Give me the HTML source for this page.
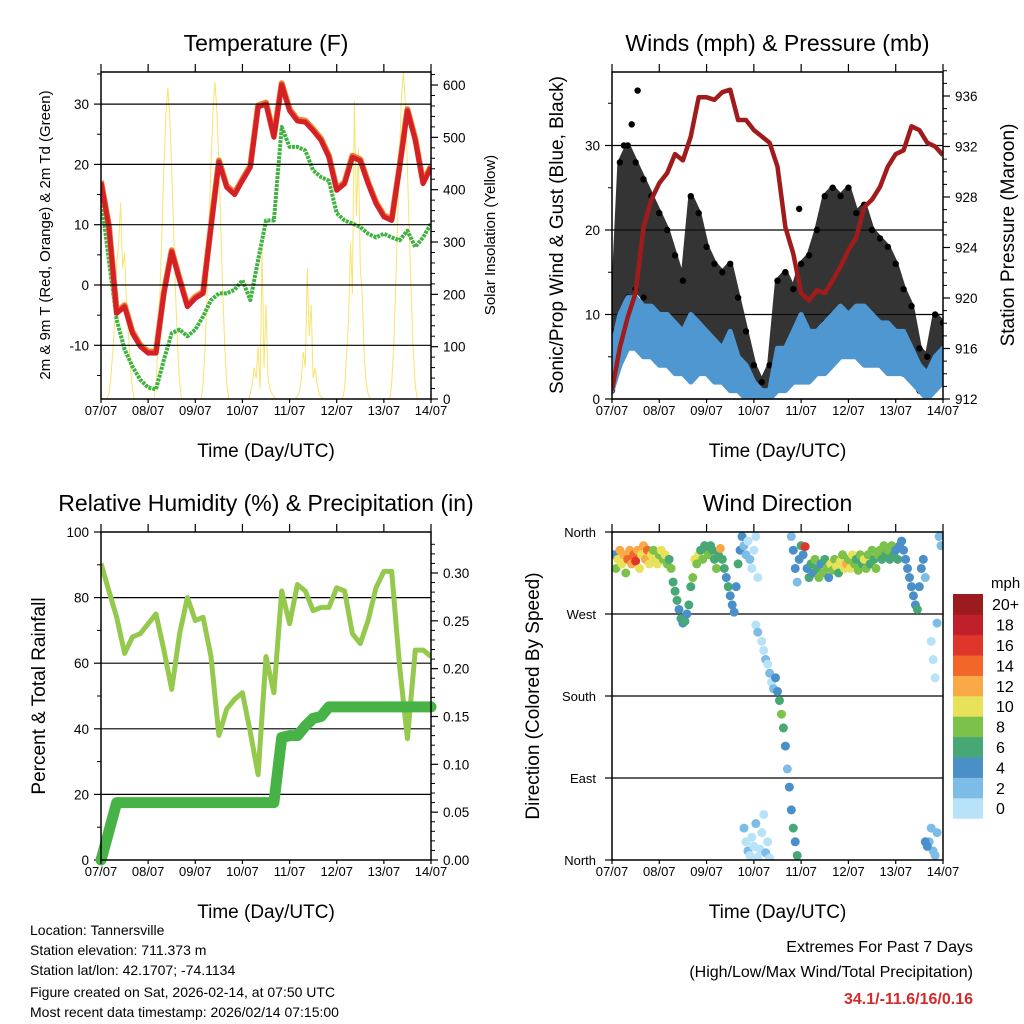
<!DOCTYPE html>
<html><head><meta charset="utf-8"><style>
html,body{margin:0;padding:0;background:#fff;}
svg{display:block;font-family:"Liberation Sans",Arial,sans-serif;}
</style></head><body>
<svg id="s" width="1024" height="1024" viewBox="0 0 1024 1024" xmlns="http://www.w3.org/2000/svg">
<defs>
<clipPath id="c1"><rect x="101" y="72" width="330" height="327"/></clipPath>
<clipPath id="c2"><rect x="612" y="72" width="331" height="327"/></clipPath>
<clipPath id="c3"><rect x="101" y="532" width="330" height="328"/></clipPath>
<clipPath id="c4"><rect x="612" y="532" width="331" height="328"/></clipPath>
</defs>
<g id="g1"></g>
<g id="g2"></g>
<g id="g3"></g>
<g id="g4"></g>
<g font-size="14" fill="#000">
<text x="30" y="935">Location: Tannersville</text>
<text x="30" y="955">Station elevation: 711.373 m</text>
<text x="30" y="975">Station lat/lon: 42.1707; -74.1134</text>
<text x="30" y="997">Figure created on Sat, 2026-02-14, at 07:50 UTC</text>
<text x="30" y="1017">Most recent data timestamp: 2026/02/14 07:15:00</text>
</g>
<g text-anchor="end">
<text x="973" y="952" font-size="16">Extremes For Past 7 Days</text>
<text x="973" y="977" font-size="16">(High/Low/Max Wind/Total Precipitation)</text>
<text x="973" y="1004" font-size="16" font-weight="bold" fill="#d42a2a">34.1/-11.6/16/0.16</text>
</g>
</svg>
<script>
// ---- data ----
const dayLabels=["07/07","08/07","09/07","10/07","11/07","12/07","13/07","14/07"];
const hours4=[0,4,8,12,16,20,24,28,32,36,40,44,48,52,56,60,64,68,72,76,80,84,88,92,96,100,104,108,112,116,120,124,128,132,136,140,144,148,152,156,160,164,168];
const tempF=[17,9.6,-4.7,-3.6,-8,-10.2,-11.3,-11.3,-1.4,5.5,0.8,-3.6,-2.2,-1.4,9.6,20.4,16.2,15,17.3,19.5,29.5,30,24.5,33.2,28.9,27.2,27,25.6,24,21.2,15.7,16.8,21.2,20.6,16.8,13.5,11.3,10.7,19.5,28.9,24,16.8,19.5];
const dewF=[14.6,4.1,-5.8,-10.7,-13.5,-15.7,-17,-17.3,-12.4,-8,-7.4,-8.5,-7.4,-5.2,-2.5,-1.4,-1.4,-0.8,0.8,-2.5,4.1,10.7,10.7,26.2,22.9,22.9,22.3,19,17.9,17.3,11.9,10.7,10.2,9.6,8.5,7.9,8.5,7.9,7.4,9,6.3,7.9,10.2];
const solar=[0,0,0,
0,10,40,90,150,260,300,375,250,280,180,120,60,20,0,
0,0,0,0,0,0,0,0,0,
0,30,100,200,320,440,540,595,540,440,320,200,100,30,0,
0,0,0,0,0,0,0,0,0,
0,30,100,200,330,450,550,606,550,450,330,200,100,30,0,
0,0,0,0,0,0,0,0,0,
0,10,30,60,40,100,20,290,60,180,40,20,10,5,0,
0,0,0,0,0,0,0,0,0,
0,5,15,40,90,60,250,120,180,40,60,30,10,5,0,
0,0,0,0,0,0,0,0,0,
0,20,80,150,300,200,570,350,480,250,200,80,30,10,0,
0,0,0,0,0,0,0,0,0,
0,30,100,210,340,470,580,625,560,440,310,190,90,25,0,
0,0,0,0,0,0,0];
const pressure=[912.7,916.1,918.5,920.4,925.6,927.8,929.1,929.9,931.4,930.9,932.8,935.9,935.9,935.7,936.3,936.5,934.1,934.1,933.3,932.8,932.3,930.4,925.6,923.5,920.4,919.8,920.6,920.4,921.4,922.5,923.8,924.8,927.2,927.8,928.8,930.4,931.4,931.7,933.6,933.3,932.3,932.0,931.3];
const gustHi=[8,28,30,28,26,24,22,20,17,14,24,22,18,16,15,16,12,8,4,2,4,14,15,13,16,17,20,24,25,24,25,22,23,20,19,18,16,13,11,6,5,10,9];
const gustLo=[1,8,12,13,12,10,9,8,7,6,6,8,6,5,4,3,2,1,0.5,0.5,0.5,2,4,3,5,6,7,9,10,9,9,8,7,6,6,5,4,3,3,1,1,2,3];
const windHi=[6,10,12,12,11,11,10,10,9,8,10,9,8,7,6,8,5,4,2,1,1,6,6,8,10,8,8,9,10,11,10,11,11,10,9,9,8,8,6,4,3,5,6];
const windLo=[1,4,6,6,5,5,4,4,3,3,2,3,3,2,2,1,1,0,0,0,0,1,1,2,2,2,3,3,4,5,5,5,4,4,4,3,3,3,2,1,0,1,2];
const gustOutT=[10,13,6,95,88,140];
const gustOutV=[32.5,36.5,30,22.5,15,7];
const rh=[90.4,82,74,63,68,69,72,75,64,52,69,80,73,74,62,38,46,49,51,39,26,62,51,82,72,84,82,76,77,77,83,82,69,66,73,83,88,88,59,37,64,64,62];
const precip=[0,0.03,0.06,0.06,0.06,0.06,0.06,0.06,0.06,0.06,0.06,0.06,0.06,0.06,0.06,0.06,0.06,0.06,0.06,0.06,0.06,0.06,0.06,0.128,0.13,0.13,0.14,0.148,0.15,0.16,0.16,0.16,0.16,0.16,0.16,0.16,0.16,0.16,0.16,0.16,0.16,0.16,0.16];
const wdT=[1,2,3,4,5,6,7,8,9,10,11,12,13,14,15,16,17,18,19,20,21,22,23,24,25,26,27,28,29,30,
31,32,33,34,35,36,37,38,39,40,41,
42,43,44,45,46,47,48,49,50,51,52,53,54,55,56,
57,58,59,60,61,62,63,64,65,
66,67,68,69,70,71,72,73,74,
73,74,76,77,78,79,80,81,82,
67,68,69,70,71,72,73,74,75,76,77,78,79,80,
83,84,85,86,87,88,89,90,91,92,93,94,
91,92,93,94,95,96,97,98,99,100,
101,102,103,104,105,106,107,108,109,110,111,112,113,114,115,116,117,118,119,120,121,122,123,124,125,126,127,128,129,130,131,132,133,134,
135,136,137,138,139,140,141,142,143,144,145,146,
147,148,149,150,151,152,153,154,155,156,157,158,159,
161,162,163,164,165,162,163,164,165,166,167,160,159];
const wdDir=[335,320,330,340,325,335,315,330,340,325,335,328,340,320,335,345,330,340,325,335,340,330,325,335,340,330,335,325,330,320,
305,295,285,275,265,260,262,270,280,300,310,
330,325,335,340,330,345,340,335,345,340,330,320,335,342,330,
320,310,300,290,280,272,300,325,340,
355,345,335,350,330,320,340,355,310,
258,250,240,230,220,215,205,195,188,
35,20,10,5,25,15,40,3,12,30,50,8,20,2,
200,185,175,160,145,125,100,80,55,35,20,5,
355,340,320,305,330,345,335,344,320,310,
325,315,330,320,310,325,315,330,320,310,325,318,330,322,315,328,335,320,325,330,320,335,325,330,318,335,325,330,320,335,325,340,330,320,
335,340,330,345,335,340,330,345,335,340,330,345,
350,340,330,320,310,300,290,280,275,300,320,330,310,
20,35,10,5,30,240,220,200,260,355,345,15,20];
const wdSpd=[4,8,10,12,10,12,8,14,12,12,14,16,12,10,10,12,12,14,10,10,8,10,10,8,10,8,10,8,6,8,
6,6,6,4,6,4,6,4,6,6,8,
10,8,10,6,8,6,6,8,6,6,6,8,6,12,6,
6,4,6,4,4,4,4,6,4,
4,2,2,0,2,0,0,0,0,
0,2,0,0,2,0,2,0,2,
2,0,2,0,0,0,2,0,0,0,0,2,0,0,
4,4,6,8,6,4,2,4,4,6,4,6,
2,4,4,2,4,6,4,16,4,6,
6,4,8,6,8,4,8,6,8,4,10,8,8,10,6,10,8,10,12,8,10,10,8,6,8,8,6,10,8,8,6,8,6,8,
8,8,6,8,6,8,6,8,6,4,6,4,
4,4,4,4,4,4,4,4,6,4,4,4,2,
2,2,2,2,2,0,0,0,2,2,2,4,4];
const cbLabels=["0","2","4","6","8","10","12","14","16","18","20+"];
const cbColors=["#b8e2f8","#7dbce6","#4a8fc7","#47a876","#7cc24a","#e8e25a","#f9a945","#f26729","#e0352a","#c0202a","#9b1b1e"];

// ---- helpers ----
const NS="http://www.w3.org/2000/svg";
function mk(parent,tag,attrs,txt){const e=document.createElementNS(NS,tag);for(const k in attrs)e.setAttribute(k,attrs[k]);if(txt!==undefined)e.textContent=txt;parent.appendChild(e);return e;}
function xs(L,R){return t=>L+t/168*(R-L);}
function speedColor(s){let i=Math.min(10,Math.floor(s/2));return cbColors[i];}

function frame(g,L,R,T,B,title){
  const x=xs(L,R);
  dayLabels.forEach((d,i)=>{const px=x(i*24);
    const tk=mk(g,'line',{x1:px,x2:px,y1:B,y2:B+4,stroke:'#000','stroke-width':1.2});
    
    
    const tk2=mk(g,'line',{x1:px,x2:px,y1:T-8,y2:T,stroke:'#000','stroke-width':1.2});
    
    
    const lb=mk(g,'text',{x:px,y:B+16,'font-size':13,'text-anchor':'middle'},d);
    
    
  });
  const tt=mk(g,'text',{x:(L+R)/2,y:T-21,'font-size':23,'text-anchor':'middle'},title);
  
  
  const xt=mk(g,'text',{x:(L+R)/2,y:B+58,'font-size':19,'text-anchor':'middle'},'Time (Day/UTC)');
  
  
}
function box(g,L,R,T,B){const r=mk(g,'rect',{x:L,y:T,width:R-L,height:B-T,fill:'none',stroke:'#000','stroke-width':1.5});
  
  }
function yAxis(g,side,X,vals,yf,fmt,grid,L,R,minors){
  const dir=side==='left'?-1:1;
  (minors||[]).forEach(v=>{const py=yf(v);const m=mk(g,'line',{x1:X,x2:X+dir*4,y1:py,y2:py,stroke:'#000','stroke-width':1});
    
    });
  vals.forEach(v=>{const py=yf(v);
    if(grid){const gl=mk(g,'line',{x1:L,x2:R,y1:py,y2:py,stroke:'#000','stroke-width':1.2});
      
      }
    const tk=mk(g,'line',{x1:X,x2:X+dir*7,y1:py,y2:py,stroke:'#000','stroke-width':1.2});
    
    
    const lb=mk(g,'text',{x:X+dir*12,y:py+5,'font-size':13.5,'text-anchor':side==='left'?'end':'start'},fmt(v));
    
    
  });
}
function vlabel(g,x,y,size,txt,name){const t=mk(g,'text',{x:x,y:y,'font-size':size,'text-anchor':'middle',transform:`rotate(-90 ${x} ${y})`},txt);
  
  }
function path(g,ts,vs,x,y,attrs,name){let d='';ts.forEach((t,i)=>{d+=(i?'L':'M')+x(t).toFixed(1)+','+y(vs[i]).toFixed(1);});
  const p=mk(g,'path',Object.assign({d:d,fill:'none'},attrs));
  
  return p;}
function band(g,ts,hi,lo,x,y,fill,name,op){let d='';ts.forEach((t,i)=>{d+=(i?'L':'M')+x(t).toFixed(1)+','+y(hi[i]).toFixed(1);});
  for(let i=ts.length-1;i>=0;i--)d+='L'+x(ts[i]).toFixed(1)+','+y(lo[i]).toFixed(1);d+='Z';
  const p=mk(g,'path',{d:d,fill:fill,stroke:fill,'stroke-width':5,'stroke-linejoin':'round',opacity:op||1});
  
  return p;}

// ---- panel 1: temperature ----
(function(){const g=document.getElementById('g1');const L=101,R=431,T=72,B=399;const x=xs(L,R);
  const yT=v=>285-v*6.03, yS=v=>399-v*0.5233;
  const c=mk(g,'g',{'clip-path':'url(#c1)'});
  
  
  yAxis(g,'left',L,[-10,0,10,20,30],yT,v=>String(v),true,L,R,[-15,-5,5,15,25,35]);
  yAxis(g,'right',R,[0,100,200,300,400,500,600],yS,v=>String(v),false,L,R,[20,40,60,80,120,140,160,180,220,240,260,280,320,340,360,380,420,440,460,480,520,540,560,580,620]);
  const hrs=solar.map((v,i)=>i);
  path(c,hrs,solar,x,yS,{stroke:'#f6dc4a','stroke-width':1,opacity:0.8},'solar-insolation-line');
  path(c,hours4,dewF,x,yT,{stroke:'#3fb23f','stroke-width':4,'stroke-dasharray':'3 1','stroke-linejoin':'round'},'dewpoint-line');
  path(c,hours4,tempF,x,yT,{stroke:'#f07d2a','stroke-width':6,'stroke-linejoin':'round',transform:'translate(0,-1.5)'},'temp-9m-line');
  path(c,hours4,tempF,x,yT,{stroke:'#d42027','stroke-width':5,'stroke-linejoin':'round'},'temp-2m-line');
  box(g,L,R,T,B);frame(g,L,R,T,B,'Temperature (F)');
  vlabel(g,50,235,15,'2m & 9m T (Red, Orange) & 2m Td (Green)','y-axis-title-left');
  vlabel(g,495,235,15,'Solar Insolation (Yellow)','y-axis-title-right');
})();

// ---- panel 2: winds ----
(function(){const g=document.getElementById('g2');const L=612,R=943,T=72,B=399;const x=xs(L,R);
  const yW=v=>399-v*8.45, yP=p=>399-(p-912)*12.625;
  yAxis(g,'left',L,[0,10,20,30],yW,v=>String(v),true,L,R,[5,15,25,35]);
  yAxis(g,'right',R,[912,916,920,924,928,932,936],yP,v=>String(v),false,L,R,[913,914,915,917,918,919,921,922,923,925,926,927,929,930,931,933,934,935,937,938]);
  const c=mk(g,'g',{'clip-path':'url(#c2)'});
  
  
  band(c,hours4,gustHi,gustLo,x,yW,'#111','gust-scatter-band',0.85);
  hours4.forEach((t,i)=>{[gustHi[i],gustLo[i]].forEach(v=>{const d=mk(c,'circle',{cx:x(t),cy:yW(v),r:3.2,fill:'#000'});
    
    });});
  gustOutT.forEach((t,i)=>{const d=mk(c,'circle',{cx:x(t),cy:yW(gustOutV[i]),r:3.2,fill:'#000'});
    
    });
  band(c,hours4,windHi,windLo,x,yW,'#4f97d0','wind-speed-band',1);
  path(c,hours4,pressure,x,yP,{stroke:'#a01c1c','stroke-width':4.5,'stroke-linejoin':'round'},'pressure-line');
  box(g,L,R,T,B);frame(g,L,R,T,B,'Winds (mph) & Pressure (mb)');
  vlabel(g,563,235,19,'Sonic/Prop Wind & Gust (Blue, Black)','y-axis-title-left');
  vlabel(g,1014,235,19,'Station Pressure (Maroon)','y-axis-title-right');
})();

// ---- panel 3: RH & precip ----
(function(){const g=document.getElementById('g3');const L=101,R=431,T=532,B=860;const x=xs(L,R);
  const yR=v=>860-v*3.28, yPr=v=>860-v*956.7;
  yAxis(g,'left',L,[0,20,40,60,80,100],yR,v=>String(v),false,L,R,[10,30,50,70,90]);
  [20,40,60,80].forEach(v=>{const gl=mk(g,'line',{x1:L,x2:R,y1:yR(v),y2:yR(v),stroke:'#000','stroke-width':1.2});
    
    });
  yAxis(g,'right',R,[0,0.05,0.10,0.15,0.20,0.25,0.30],yPr,v=>v.toFixed(2),false,L,R,[0.01,0.02,0.03,0.04,0.06,0.07,0.08,0.09,0.11,0.12,0.13,0.14,0.16,0.17,0.18,0.19,0.21,0.22,0.23,0.24,0.26,0.27,0.28,0.29,0.31,0.32,0.33]);
  const c=mk(g,'g',{'clip-path':'url(#c3)'});
  
  
  path(c,hours4,rh,x,yR,{stroke:'#94c94e','stroke-width':5,'stroke-linejoin':'round'},'relative-humidity-line');
  path(g,hours4,precip,x,yPr,{stroke:'#47b347','stroke-width':11,'stroke-linejoin':'round','stroke-linecap':'round'},'precipitation-line');
  box(g,L,R,T,B);frame(g,L,R,T,B,'Relative Humidity (%) & Precipitation (in)');
  vlabel(g,45,696,19,'Percent & Total Rainfall','y-axis-title-left');
})();

// ---- panel 4: wind direction ----
(function(){const g=document.getElementById('g4');const L=612,R=943,T=532,B=860;const x=xs(L,R);
  const yD=d=>860-d*328/360;
  const dirVals=[0,90,180,270,360], dirNames=["North","East","South","West","North"];
  dirVals.forEach((v,i)=>{const py=yD(v);
    if(i>0&&i<4){const gl=mk(g,'line',{x1:L,x2:R,y1:py,y2:py,stroke:'#000','stroke-width':1.2});
      
      }
    const tk=mk(g,'line',{x1:L-7,x2:L,y1:py,y2:py,stroke:'#000','stroke-width':1.2});
    
    
    const lb=mk(g,'text',{x:L-16,y:py+5,'font-size':13,'text-anchor':'end'},dirNames[i]);
    
    });
  const c=mk(g,'g',{'clip-path':'url(#c4)'});
  
  
  wdT.forEach((t,i)=>{const d=mk(c,'circle',{cx:x(t),cy:yD(wdDir[i]),r:4.5,fill:speedColor(wdSpd[i])});
    
    });
  box(g,L,R,T,B);frame(g,L,R,T,B,'Wind Direction');
  vlabel(g,539,696,19,'Direction (Colored By Speed)','y-axis-title-left');
  const cb=mk(g,'g',{});
  
  
  const top=594,h=20.4;
  for(let i=0;i<11;i++){const yy=top+(10-i)*h;
    const r=mk(cb,'rect',{x:953,y:yy,width:30,height:h+0.3,fill:cbColors[i]});
    
    
    const t=mk(cb,'text',{x:i===10?992:996,y:yy+h/2+6,'font-size':16},cbLabels[i]);
    
    }
  const u=mk(cb,'text',{x:991,y:588,'font-size':15},'mph');
  
  
})();
</script>
</body></html>
